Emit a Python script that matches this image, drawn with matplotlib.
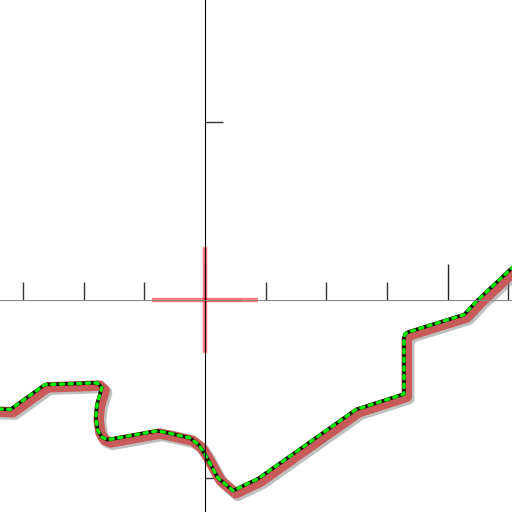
import matplotlib
matplotlib.use("Agg")
import matplotlib.pyplot as plt
import matplotlib.patheffects as pe

# curve (data units)
xs = [-3.45, -3.21, -2.64, -1.78, -1.70, -1.78, -1.80, -1.77, -1.70, -1.60, -0.79,
      -0.55, -0.25, -0.10, 0.0, 0.21, 0.46, 0.87, 2.49, 3.28, 3.28, 3.30, 3.36,
      4.27, 4.50, 5.06, 5.40]
ys = [-1.84, -1.85, -1.43, -1.40, -1.48, -1.76, -1.98, -2.20, -2.32, -2.36, -2.21,
      -2.26, -2.33, -2.45, -2.61, -3.00, -3.22, -3.02, -1.85, -1.59, -0.64, -0.57,
      -0.54, -0.25, 0.0, 0.54, 0.85]

x_major = [0, 4]
x_minor = [-3, -2, -1, 1, 2, 3, 5]
y_major = [0]
y_minor = [-3, 3]

cross_x = [-0.87, 0.87]
cross_y = [-0.89, 0.89]


def main():
    fig = plt.figure(figsize=(5.12, 5.12), dpi=100)
    ax = fig.add_axes([0, 0, 1, 1])

    ax.set_xlim(-3.38, 5.06)
    ax.set_ylim(-3.58, 5.06)

    ax.spines["top"].set_visible(False)
    ax.spines["right"].set_visible(False)
    ax.spines["left"].set_position(("data", 0))
    ax.spines["bottom"].set_position(("data", 0))
    ax.spines["bottom"].set_color("#888888")
    ax.spines["left"].set_color("black")

    ax.set_xticks(x_major)
    ax.set_xticks(x_minor, minor=True)
    ax.set_yticks(y_major)
    ax.set_yticks(y_minor, minor=True)
    ax.tick_params(which="both", direction="in", labelbottom=False, labelleft=False)
    ax.tick_params(which="major", length=26, width=1, color="#222222")
    ax.tick_params(which="minor", length=13, width=1, color="#333333")

    # red cross at the origin
    ax.plot(cross_x, [0, 0], color="red", alpha=0.5, lw=3.2, solid_capstyle="butt")
    ax.plot([0, 0], cross_y, color="red", alpha=0.5, lw=3.2, solid_capstyle="butt")

    effects = [
        pe.SimpleLineShadow(offset=(3.5, -3.5), shadow_color="gray", alpha=0.5,
                            linewidth=8, joinstyle="round"),
        pe.Stroke(offset=(2, -2), linewidth=7.5, foreground="#c85a5a", joinstyle="round"),
        pe.Normal(),
    ]
    ax.plot(xs, ys, color="#1a0a0a", lw=2.6, path_effects=effects, solid_joinstyle="round")
    ax.plot(xs, ys, color="#00ee00", lw=2.4, linestyle=(0, (1, 1.6)), dash_capstyle="round")

    fig.savefig("out.png", dpi=100)


if __name__ == "__main__":
    main()
